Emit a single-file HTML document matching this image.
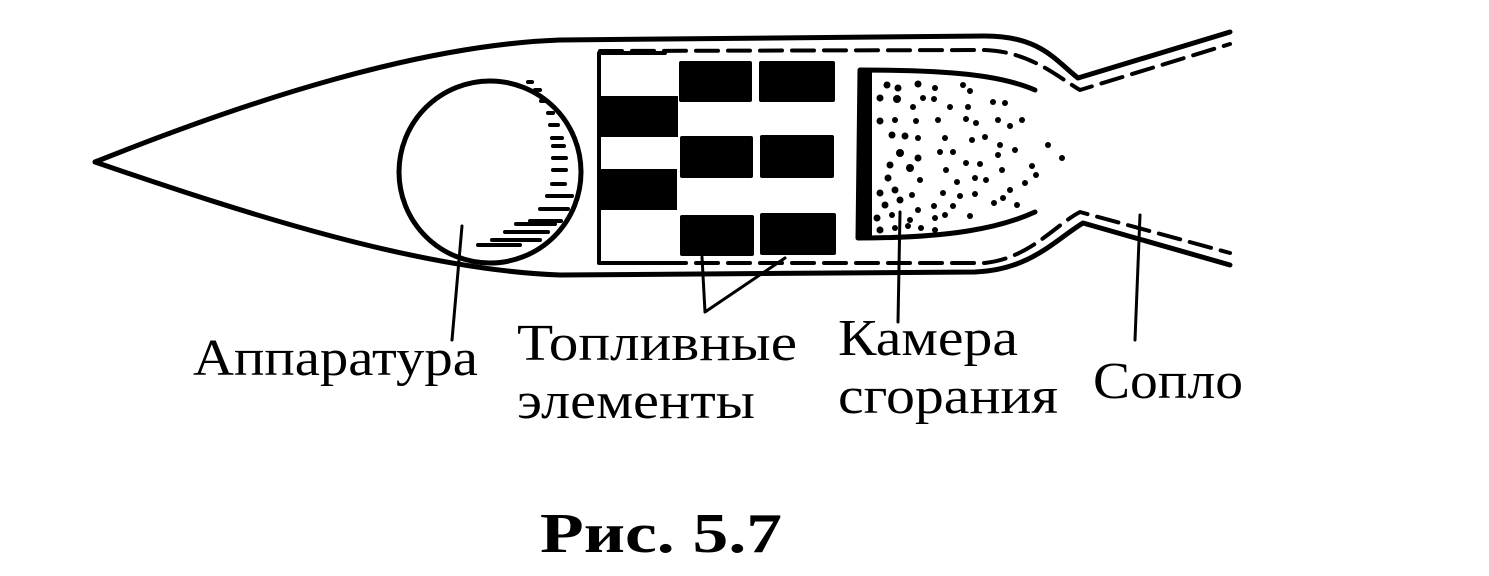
<!DOCTYPE html>
<html><head><meta charset="utf-8"><style>html,body{margin:0;padding:0;background:#fff}svg{display:block}</style></head>
<body>
<svg width="1489" height="576" viewBox="0 0 1489 576" xmlns="http://www.w3.org/2000/svg">
<g fill="none" stroke="#000" stroke-linecap="round" stroke-linejoin="round">
<!-- outer hull -->
<path d="M95,162 C250,100 420,45 560,40 L985,36 C1040,36 1055,60 1078,78 L1230,32" stroke-width="5"/>
<path d="M95,162 C250,215 420,270 560,275 L975,272 C1030,270 1055,240 1083,223 L1230,265" stroke-width="5"/>
<!-- inner dashed -->
<path d="M600,51 L985,50 C1030,52 1055,75 1080,90 L1230,44" stroke-width="4" stroke-dasharray="22,10"/>
<path d="M600,263 L985,263 C1030,258 1055,225 1080,212 L1230,253" stroke-width="4" stroke-dasharray="22,10"/>
<!-- rectangle left edge and corners -->
<path d="M665,53 L599,53 L599,263 L665,263" stroke-width="4"/>
<!-- circle -->
<circle cx="490" cy="172" r="91" stroke-width="5"/>
<!-- chamber -->
<path d="M1035,90 C1000,75 950,70 860,70 L858,238 C950,238 1000,228 1035,212" stroke-width="5"/>
<!-- leaders -->
<path d="M462,226 L452,340" stroke-width="3"/>
<path d="M702,257 L705,312 L785,258" stroke-width="3"/>
<path d="M900,212 L898,322" stroke-width="3"/>
<path d="M1140,215 L1135,340" stroke-width="3"/>
</g>
<!-- hatching in circle -->
<g stroke="#000" stroke-width="4" stroke-linecap="round">
<line x1="528" y1="82" x2="532" y2="82"/><line x1="535" y1="90" x2="540" y2="90"/>
<line x1="541" y1="101" x2="546" y2="101"/><line x1="548" y1="113" x2="553" y2="113"/>
<line x1="550" y1="125" x2="558" y2="125"/><line x1="552" y1="138" x2="562" y2="138"/>
<line x1="553" y1="146" x2="564" y2="146"/><line x1="553" y1="158" x2="566" y2="158"/>
<line x1="553" y1="170" x2="566" y2="170"/><line x1="552" y1="184" x2="565" y2="184"/>
<line x1="547" y1="196" x2="572" y2="196"/><line x1="540" y1="209" x2="568" y2="209"/>
<line x1="530" y1="221" x2="561" y2="221"/><line x1="516" y1="224" x2="555" y2="224"/>
<line x1="505" y1="232" x2="548" y2="232"/><line x1="492" y1="240" x2="540" y2="240"/>
<line x1="478" y1="245" x2="520" y2="245"/>
</g>
<!-- blocks -->
<g fill="#000">
<rect x="679" y="61" width="73" height="41" rx="2"/><rect x="759" y="61" width="76" height="41" rx="2"/>
<rect x="680" y="136" width="73" height="42" rx="2"/><rect x="760" y="135" width="74" height="43" rx="2"/>
<rect x="680" y="215" width="74" height="41" rx="2"/><rect x="760" y="213" width="76" height="42" rx="2"/>
<rect x="600" y="96" width="78" height="41"/><rect x="600" y="169" width="77" height="41"/>
<!-- chamber left dense band -->
<rect x="858" y="72" width="14" height="165"/>
</g>
<!-- dots -->
<g fill="#000">
<circle cx="887" cy="85" r="3.5"/><circle cx="898" cy="88" r="3.5"/><circle cx="918" cy="84" r="3.5"/><circle cx="935" cy="88" r="3"/><circle cx="963" cy="85" r="3"/><circle cx="970" cy="91" r="3"/>
<circle cx="880" cy="98" r="3.5"/><circle cx="897" cy="99" r="4"/><circle cx="923" cy="98" r="3"/><circle cx="934" cy="99" r="3"/><circle cx="913" cy="107" r="3"/><circle cx="950" cy="107" r="3"/><circle cx="968" cy="107" r="3"/><circle cx="993" cy="102" r="3"/><circle cx="1005" cy="103" r="3"/>
<circle cx="880" cy="121" r="3.5"/><circle cx="895" cy="120" r="3"/><circle cx="916" cy="121" r="3"/><circle cx="938" cy="120" r="3"/><circle cx="966" cy="119" r="3"/><circle cx="976" cy="123" r="3"/><circle cx="998" cy="120" r="3"/><circle cx="1010" cy="126" r="3"/><circle cx="1022" cy="120" r="3"/>
<circle cx="892" cy="135" r="3.5"/><circle cx="905" cy="136" r="3.5"/><circle cx="918" cy="138" r="3"/><circle cx="945" cy="138" r="3"/><circle cx="972" cy="140" r="3"/><circle cx="985" cy="137" r="3"/><circle cx="1000" cy="145" r="3"/><circle cx="1048" cy="145" r="3"/>
<circle cx="900" cy="153" r="4"/><circle cx="918" cy="158" r="3.5"/><circle cx="940" cy="152" r="3"/><circle cx="953" cy="152" r="3"/><circle cx="998" cy="155" r="3"/><circle cx="1015" cy="150" r="3"/><circle cx="1062" cy="158" r="3"/>
<circle cx="890" cy="165" r="3.5"/><circle cx="910" cy="168" r="4"/><circle cx="946" cy="170" r="3"/><circle cx="966" cy="163" r="3"/><circle cx="980" cy="164" r="3"/><circle cx="1002" cy="170" r="3"/><circle cx="1032" cy="166" r="3"/><circle cx="1036" cy="175" r="3"/>
<circle cx="888" cy="178" r="3.5"/><circle cx="920" cy="180" r="3"/><circle cx="957" cy="182" r="3"/><circle cx="975" cy="178" r="3"/><circle cx="986" cy="180" r="3"/><circle cx="1025" cy="183" r="3"/>
<circle cx="880" cy="193" r="3.5"/><circle cx="895" cy="190" r="3.5"/><circle cx="912" cy="195" r="3"/><circle cx="943" cy="193" r="3"/><circle cx="960" cy="196" r="3"/><circle cx="975" cy="194" r="3"/><circle cx="1010" cy="190" r="3"/><circle cx="1003" cy="198" r="3"/>
<circle cx="885" cy="205" r="3.5"/><circle cx="900" cy="200" r="3.5"/><circle cx="918" cy="210" r="3"/><circle cx="934" cy="206" r="3"/><circle cx="953" cy="206" r="3"/><circle cx="994" cy="203" r="3"/><circle cx="1017" cy="205" r="3"/>
<circle cx="877" cy="218" r="3.5"/><circle cx="892" cy="215" r="3"/><circle cx="910" cy="220" r="3"/><circle cx="935" cy="218" r="3"/><circle cx="945" cy="215" r="3"/><circle cx="970" cy="216" r="3"/>
<circle cx="880" cy="230" r="3.5"/><circle cx="895" cy="228" r="3"/><circle cx="908" cy="226" r="3"/><circle cx="921" cy="228" r="3"/><circle cx="935" cy="230" r="3"/>
</g>
<g font-family="'Liberation Serif','DejaVu Serif',serif" fill="#000">
<text x="193" y="375" font-size="52" textLength="285" lengthAdjust="spacingAndGlyphs">Аппаратура</text>
<text x="517" y="360" font-size="52" textLength="280" lengthAdjust="spacingAndGlyphs">Топливные</text>
<text x="517" y="418" font-size="52" textLength="238" lengthAdjust="spacingAndGlyphs">элементы</text>
<text x="838" y="355" font-size="52" textLength="180" lengthAdjust="spacingAndGlyphs">Камера</text>
<text x="838" y="413" font-size="52" textLength="220" lengthAdjust="spacingAndGlyphs">сгорания</text>
<text x="1093" y="398" font-size="52" textLength="150" lengthAdjust="spacingAndGlyphs">Сопло</text>
<text x="540" y="552" font-size="56" font-weight="bold" textLength="242" lengthAdjust="spacingAndGlyphs">Рис. 5.7</text>
</g>
</svg>
</body></html>
